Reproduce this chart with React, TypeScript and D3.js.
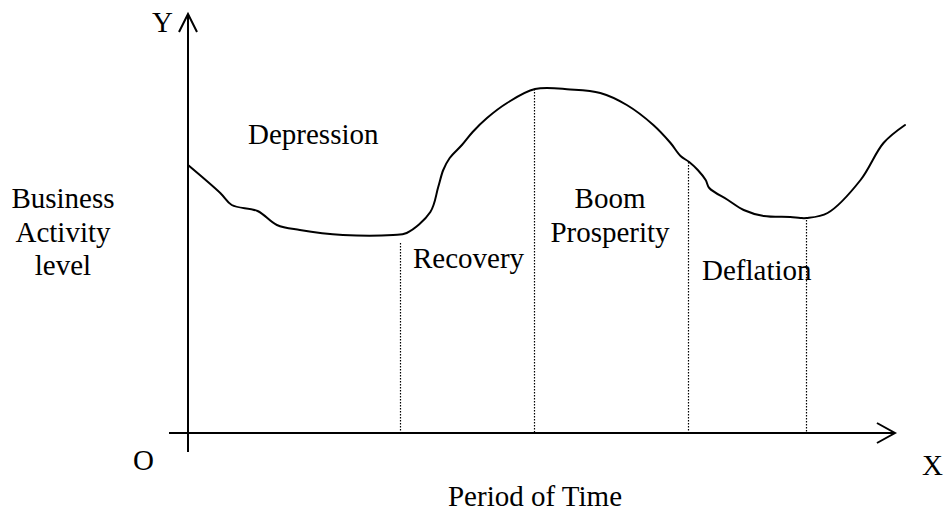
import React from "react";
import * as d3 from "d3";

// Period of time (0..100) and business activity level (0..100)
const timeValues = [
  0, 4.5, 6.1, 9.7, 12.4, 15.6, 21.6, 28.6, 30.5, 33.8, 34.9, 35.6, 36.5, 38.2,
  39.7, 41.7, 44.5, 48.4, 53.3, 57.5, 61.2, 64.9, 67.3, 68.7, 69.9, 71.1, 72.2,
  72.7, 75.3, 77.5, 80.3, 84.0, 85.4, 86.3, 89.2, 93.8, 97.0, 100,
];
const activityValues = [
  67, 60, 57, 55.5, 52, 50.75, 49.5, 49.5, 50, 55.25, 61.5, 65.75, 68.75, 72,
  75.25, 78.75, 82.5, 86, 85.9, 85, 82, 77, 72.5, 69.25, 67.75, 65.75, 63.25,
  61.25, 58.25, 55.75, 54.25, 54, 53.75, 53.75, 55, 63.25, 72.5, 77,
];

// Phase boundaries (dotted lines)
const boundaryTimes = [29.6, 48.3, 69.7, 86.2];
const boundaryTops = [47.5, 86, 67.75, 53.25];

const leftLabelLines = ["Business", "Activity", "level"];
const phaseBoomLines = ["Boom", "Prosperity"];

export default function App() {
  const W = 944;
  const H = 513;
  const x = d3.scaleLinear().domain([0, 100]).range([188, 905]);
  const y = d3.scaleLinear().domain([0, 100]).range([433, 33]);

  const pts = timeValues.map((t, i) => [t, activityValues[i]] as [number, number]);
  const line = d3
    .line<[number, number]>()
    .x((d) => x(d[0]))
    .y((d) => y(d[1]))
    .curve(d3.curveCatmullRom.alpha(0.5));

  const font = "'Liberation Serif', 'Times New Roman', serif";
  const fs = 29;

  const ox = x(0);
  const oy = y(0);
  const xAxisStart = x(-2.65);
  const xAxisEnd = x(98.6);
  const yAxisTop = y(104.75);
  const yAxisBottom = y(-4.75);

  return (
    <svg
      width={W}
      height={H}
      style={{ position: "absolute", left: 0, top: 0, background: "#fff" }}
      fontFamily={font}
    >
      <rect width={W} height={H} fill="#fff" />
      {/* Y axis */}
      <line x1={ox} y1={yAxisBottom} x2={ox} y2={yAxisTop} stroke="#000" strokeWidth={2} />
      <polyline
        points={`${ox - 9},${yAxisTop + 18} ${ox},${yAxisTop} ${ox + 9},${yAxisTop + 18}`}
        fill="none"
        stroke="#000"
        strokeWidth={2}
      />
      {/* X axis */}
      <line x1={xAxisStart} y1={oy} x2={xAxisEnd} y2={oy} stroke="#000" strokeWidth={2.2} />
      <polyline
        points={`${xAxisEnd - 18},${oy - 10} ${xAxisEnd},${oy} ${xAxisEnd - 18},${oy + 10}`}
        fill="none"
        stroke="#000"
        strokeWidth={2}
      />
      {/* dotted boundaries */}
      {boundaryTimes.map((t, i) => (
        <line
          key={i}
          x1={Math.round(x(t)) + 0.5}
          x2={Math.round(x(t)) + 0.5}
          y1={y(boundaryTops[i])}
          y2={oy}
          stroke="#000"
          strokeWidth={1.2}
          strokeDasharray="1.5 1.5"
        />
      ))}
      {/* curve */}
      <path d={line(pts) || ""} fill="none" stroke="#000" strokeWidth={2} strokeLinejoin="round" strokeLinecap="round" />

      {/* labels */}
      <text x={152} y={32} fontSize={fs}>Y</text>
      <text x={133} y={470} fontSize={fs}>O</text>
      <text x={922} y={475} fontSize={fs}>X</text>
      <text x={535} y={506} fontSize={fs} textAnchor="middle">Period of Time</text>
      {leftLabelLines.map((s, i) => (
        <text key={s} x={63} y={208 + i * 33.5} fontSize={fs} textAnchor="middle">{s}</text>
      ))}
      <text x={248} y={144} fontSize={fs}>Depression</text>
      <text x={413} y={268} fontSize={fs}>Recovery</text>
      {phaseBoomLines.map((s, i) => (
        <text key={s} x={610} y={208 + i * 34} fontSize={fs} textAnchor="middle">{s}</text>
      ))}
      <text x={702} y={280} fontSize={fs}>Deflation</text>
    </svg>
  );
}
